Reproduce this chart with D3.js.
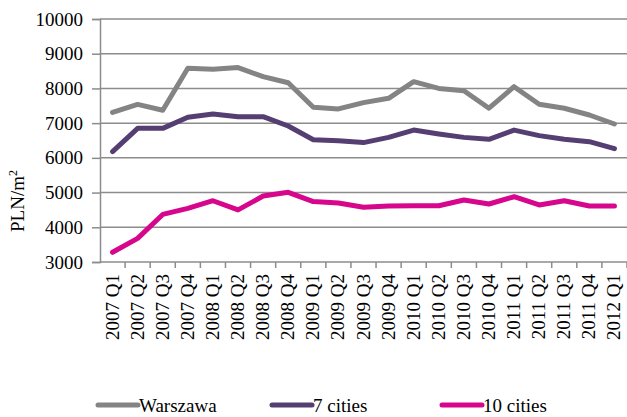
<!DOCTYPE html>
<html>
<head>
<meta charset="utf-8">
<script src="https://cdn.jsdelivr.net/npm/d3@7"></script>
<style>
  html, body { margin: 0; padding: 0; background: #fff; }
  svg { display: block; font-family: "Liberation Serif", "Times New Roman", serif; }
</style>
</head>
<body>
<div id="chart"></div>
<script>
// quarterly average price per m2
const quarters = ['2007 Q1', '2007 Q2', '2007 Q3', '2007 Q4', '2008 Q1', '2008 Q2', '2008 Q3', '2008 Q4',
    '2009 Q1', '2009 Q2', '2009 Q3', '2009 Q4', '2010 Q1', '2010 Q2', '2010 Q3', '2010 Q4',
    '2011 Q1', '2011 Q2', '2011 Q3', '2011 Q4', '2012 Q1'];
const warszawa = [7310, 7540, 7370, 8580, 8550, 8600, 8340, 8165, 7460, 7410, 7590, 7715,
    8195, 8000, 7935, 7430, 8050, 7545, 7430, 7235, 6975];
const cities7 = [6180, 6850, 6850, 7168, 7264, 7187, 7187, 6918, 6520, 6490, 6440, 6590,
    6800, 6690, 6590, 6535, 6800, 6640, 6535, 6466, 6265];
const cities10 = [3280, 3680, 4370, 4545, 4765, 4500, 4900, 5008, 4740, 4700, 4576, 4613,
    4622, 4620, 4786, 4671, 4880, 4642, 4765, 4613, 4613];
const yTicks = [3000, 4000, 5000, 6000, 7000, 8000, 9000, 10000];

const series = [
    { name: 'Warszawa', values: warszawa, color: '#848484' },
    { name: '7 cities', values: cities7, color: '#553F72' },
    { name: '10 cities', values: cities10, color: '#D6078C' }
];

const W = 627, H = 417;
const margin = { left: 100, right: 0, top: 19, bottom: 155 };

const svg = d3.select('#chart').append('svg').attr('width', W).attr('height', H);

const x = d3.scaleBand().domain(quarters).range([margin.left, W - margin.right]);
const y = d3.scaleLinear().domain([3000, 10000]).range([H - margin.bottom, margin.top]);

const gridColor = '#8c8c8c';

// gridlines
svg.append('g').selectAll('line').data(yTicks.slice(1)).enter().append('line')
    .attr('x1', margin.left).attr('x2', W)
    .attr('y1', d => y(d)).attr('y2', d => y(d))
    .attr('stroke', gridColor).attr('stroke-width', 1.5);

// y axis
const yAxis = svg.append('g').attr('transform', `translate(${margin.left},0)`)
    .call(d3.axisLeft(y).tickValues(yTicks).tickSize(8).tickPadding(9).tickFormat(d3.format('d')));
yAxis.select('.domain').attr('stroke', gridColor).attr('stroke-width', 1.5);
yAxis.selectAll('.tick line').attr('stroke', gridColor).attr('stroke-width', 1.5);
yAxis.selectAll('text').attr('font-size', '19px').attr('fill', '#000')
    .attr('font-family', '"Liberation Serif", serif');

// x axis: ticks on band boundaries
const xBase = y(3000);
svg.append('line').attr('x1', margin.left).attr('x2', W).attr('y1', xBase).attr('y2', xBase)
    .attr('stroke', gridColor).attr('stroke-width', 1.5);
svg.append('g').selectAll('line').data(quarters).enter().append('line')
    .attr('x1', d => x(d) + x.bandwidth()).attr('x2', d => x(d) + x.bandwidth())
    .attr('y1', xBase).attr('y2', xBase + 6)
    .attr('stroke', gridColor).attr('stroke-width', 1.5);
svg.append('g').selectAll('text').data(quarters).enter().append('text')
    .attr('transform', d => `translate(${x(d) + x.bandwidth() / 2 + 6},${xBase + 12}) rotate(-90)`)
    .attr('text-anchor', 'end')
    .attr('font-size', '19px')
    .text(d => d);

// y axis title
svg.append('text')
    .attr('transform', 'translate(24,201) rotate(-90)')
    .attr('text-anchor', 'middle')
    .attr('font-size', '19px')
    .html('PLN/m<tspan dy="-7" font-size="12px">2</tspan>');

// lines
const line = d3.line()
    .x((d, i) => x(quarters[i]) + x.bandwidth() / 2)
    .y(d => y(d));

svg.append('g').selectAll('path').data(series).enter().append('path')
    .attr('d', d => line(d.values))
    .attr('fill', 'none')
    .attr('stroke', d => d.color)
    .attr('stroke-width', 5)
    .attr('stroke-linejoin', 'round')
    .attr('stroke-linecap', 'round');

// legend
const legendX = [98, 272, 442];
const legend = svg.append('g').selectAll('g').data(series).enter().append('g')
    .attr('transform', (d, i) => `translate(${legendX[i]},405)`);
legend.append('line').attr('x1', 0).attr('x2', 40).attr('y1', 0).attr('y2', 0)
    .attr('stroke', d => d.color).attr('stroke-width', 5).attr('stroke-linecap', 'round');
legend.append('text').attr('x', 41).attr('y', 7).attr('font-size', '19px').text(d => d.name);
</script>
</body>
</html>
